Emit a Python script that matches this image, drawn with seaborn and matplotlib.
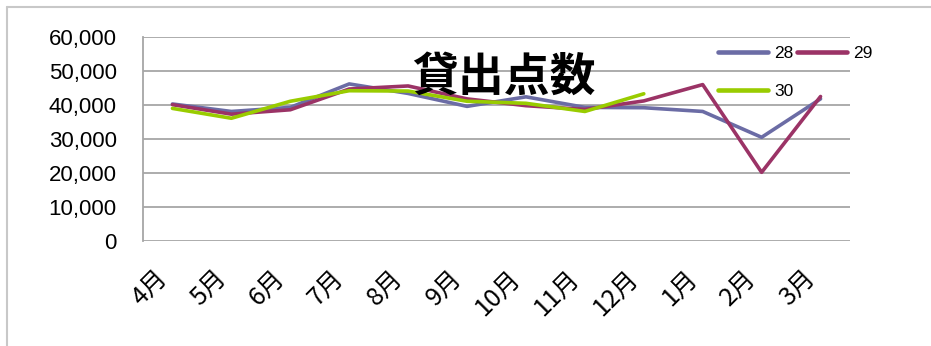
import seaborn as sns
import matplotlib.pyplot as plt
import matplotlib.lines as mlines
import pandas as pd

sns.set_style('white')
plt.rcParams['font.family'] = ['Liberation Sans', 'Noto Sans CJK JP', 'DejaVu Sans']
plt.rcParams['text.color'] = 'black'
plt.rcParams['xtick.color'] = 'black'
plt.rcParams['ytick.color'] = 'black'

months = ['4月', '5月', '6月', '7月', '8月', '9月', '10月', '11月', '12月', '1月', '2月', '3月']
y28 = [40300, 38100, 39300, 46200, 43400, 39600, 42400, 39300, 39200, 38100, 30500, 41800]
y29 = [40100, 37300, 38600, 44700, 45600, 41800, 39800, 38700, 41200, 46000, 20200, 42500]
y30 = [39000, 36100, 41100, 44200, 44100, 41100, 40500, 38100, 43300]
years = ['28', '29', '30']
colors = ['#6B6CA5', '#9B3366', '#99CC00']

rows = []
for yr, vals in zip(years, [y28, y29, y30]):
    for i, v in enumerate(vals):
        rows.append({'pos': i, '点数': v, '年度': yr})
df = pd.DataFrame(rows)

fig = plt.figure(figsize=(9.31, 3.46), dpi=100)
ax = fig.add_axes([143 / 931, 1 - 241 / 346, (850 - 143) / 931, (241 - 37) / 346])

sns.lineplot(data=df, x='pos', y='点数', hue='年度', palette=colors,
             linewidth=2.6, ax=ax, legend=False)

ax.set_xlim(-0.5, 11.5)
ax.set_ylim(0, 60000)
ax.set_yticks(range(0, 60001, 10000))
ax.set_yticklabels([f'{v:,}' for v in range(0, 60001, 10000)], fontsize=16)
ax.set_xticks(range(12))
ax.set_xticklabels(months, rotation=45, ha='right', fontsize=18,
                   family=['Noto Sans CJK JP'])
ax.tick_params(axis='x', length=0, pad=17)
ax.tick_params(axis='y', length=0, pad=19)
ax.set_xlabel('')
ax.set_ylabel('')
ax.yaxis.grid(True, color='#A6A6A6', linewidth=1.3)
ax.set_axisbelow(True)
for s in ['top', 'right', 'bottom']:
    ax.spines[s].set_visible(False)
ax.spines['left'].set_color('#A6A6A6')
ax.spines['left'].set_linewidth(1.3)

ax.text(0.51, 0.80, '貸出点数', transform=ax.transAxes, ha='center', va='center',
        fontsize=33, fontweight='bold', color='black',
        family=['Noto Sans CJK JP'], zorder=5)

# legend is filled column by column: put 28, 30 in the first column
handles = [mlines.Line2D([], [], color=c, linewidth=3.3) for c in colors]
order = [0, 2, 1]
ax.legend([handles[i] for i in order], [years[i] for i in order],
          loc='upper left', bbox_to_anchor=(709 / 931, 1 - 37 / 346),
          bbox_transform=fig.transFigure, ncol=2, frameon=False, fontsize=12.5,
          handlelength=2.9, handletextpad=0.35, columnspacing=0.2,
          labelspacing=1.35, borderpad=0)

# outer chart border
fig.add_artist(mlines.Line2D([7 / 931, 7 / 931], [0, 1 - 7 / 346], color='#C8C8C8',
                             linewidth=1.5, transform=fig.transFigure))
fig.add_artist(mlines.Line2D([7 / 931, 1], [1 - 7 / 346, 1 - 7 / 346], color='#C8C8C8',
                             linewidth=1.5, transform=fig.transFigure))

fig.savefig('out.png', dpi=100)
